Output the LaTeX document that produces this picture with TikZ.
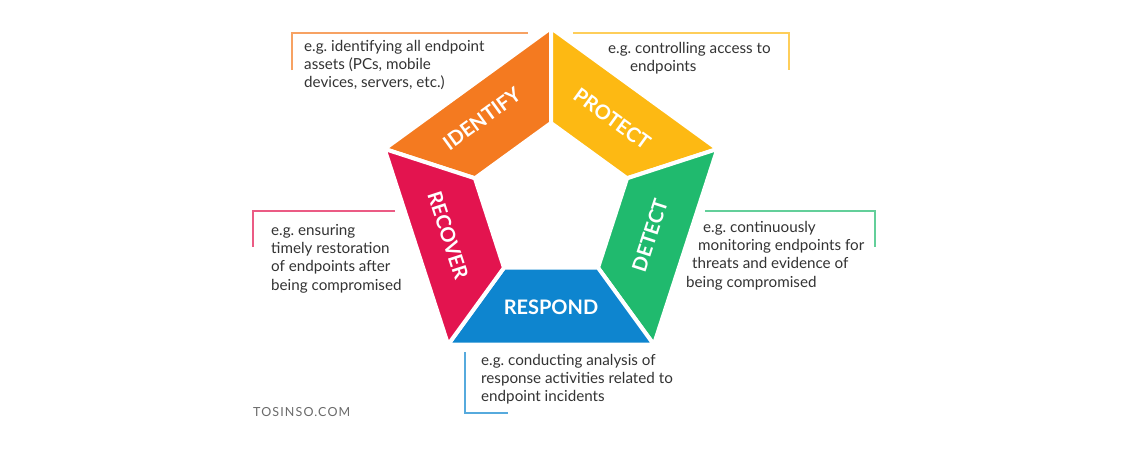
\documentclass[tikz,border=0pt]{standalone}
\usepackage{fontspec}
\setmainfont{Lato}
\usetikzlibrary{calc}
\definecolor{idcol}{HTML}{F47A20}
\definecolor{prcol}{HTML}{FDB913}
\definecolor{decol}{HTML}{20BA6E}
\definecolor{rscol}{HTML}{0E85CF}
\definecolor{rccol}{HTML}{E3144F}
\definecolor{notegray}{HTML}{333333}
\definecolor{markgray}{HTML}{6A6A6A}
\frenchspacing
\tikzset{
  band/.style={fill=#1, draw=white, line width=4pt, line join=miter},
  bandlabel/.style={text=white, font=\bfseries\fontsize{20}{20}\selectfont, inner sep=0},
  note/.style={anchor=north west, align=left, inner sep=0, text=notegray, font=\fontsize{15.2}{18.3}\selectfont},
  noteline/.style={line width=1.2pt, #1!70}
}
\begin{document}
\begin{tikzpicture}[x=1pt,y=-1pt]
\useasboundingbox[fill=white] (0,0) rectangle (1125,450);
\coordinate (c) at (551,203);
\foreach \a [count=\i] in {90,18,-54,-126,162} {
  \coordinate (o\i) at ($(c)+(\a:175pt)$);
  \coordinate (i\i) at ($(c)+(\a:80pt)$);
}
% pentagon bands
\draw[band=idcol] (o1)--(o5)--(i5)--(i1)--cycle;
\draw[band=prcol] (o1)--(o2)--(i2)--(i1)--cycle;
\draw[band=decol] (o2)--(o3)--(i3)--(i2)--cycle;
\draw[band=rscol] (o3)--(o4)--(i4)--(i3)--cycle;
\draw[band=rccol] (o4)--(o5)--(i5)--(i4)--cycle;
% band labels
\node[bandlabel, rotate=36] (identify) at ($(c)+(126:104pt)+(-8pt,0)$) {IDENTIFY};
\node[bandlabel, rotate=-36] (protect) at ($(c)+(54:104pt)$) {PROTECT};
\node[bandlabel, rotate=72] (detect) at ($(c)+(-18:104pt)$) {DETECT};
\node[bandlabel] (respond) at ($(c)+(-90:104pt)$) {RESPOND};
\node[bandlabel, rotate=-72] (recover) at ($(c)+(198:104pt)+(-4pt,0)$) {RECOVER};
% notes
\node[note] (identifynote) at (304,40) {e.g. identifying all endpoint\\assets (PCs, mobile\\devices, servers, etc.)};
\draw[noteline=idcol] (292,70)--(292,33)--(528,33);
\node[note] (protectnote) at (608,42) {e.g. controlling access to\\\hspace*{22pt}endpoints};
\draw[noteline=prcol] (573,33)--(789,33)--(789,70);
\node[note] (detectnote) at (686,221) {\hspace*{17pt}e.g. continuously\\\hspace*{12pt}monitoring endpoints for\\\hspace*{6pt}threats and evidence of\\being compromised};
\draw[noteline=decol] (705,211)--(875,211)--(875,247);
\node[note] (recovernote) at (271,224) {e.g. ensuring\\timely restoration\\of endpoints after\\being compromised};
\draw[noteline=rccol] (395,211)--(253,211)--(253,247);
\node[note] (respondnote) at (481,354) {e.g. conducting analysis of\\response activities related to\\endpoint incidents};
\draw[noteline=rscol] (465,352)--(465,413)--(508,413);
% watermark
\node[anchor=west, inner sep=0, text=markgray, font=\fontsize{12.5}{12.5}\selectfont\addfontfeatures{LetterSpace=9}] (mark) at (253,412) {TOSINSO.COM};
\end{tikzpicture}
\end{document}
